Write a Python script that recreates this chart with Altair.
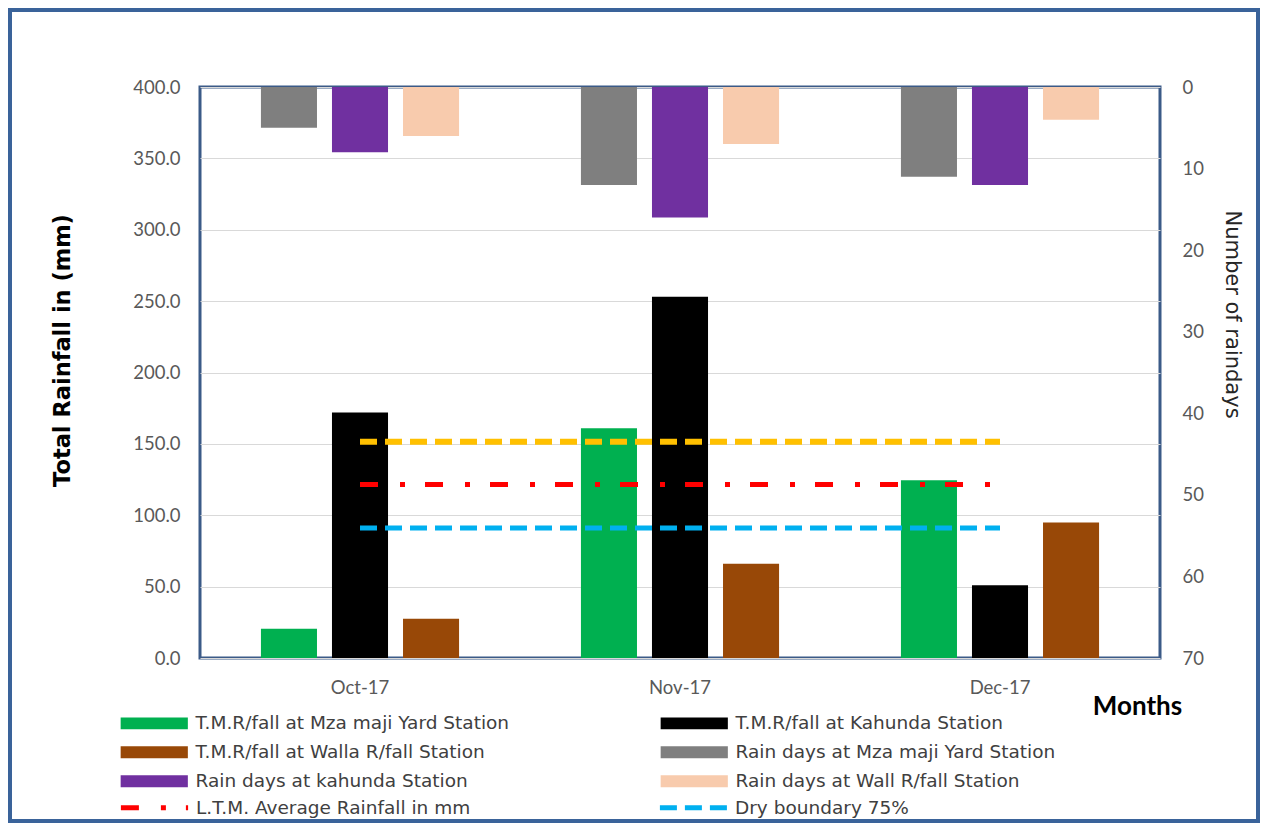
import altair as alt
import pandas as pd

months = ["Oct-17", "Nov-17", "Dec-17"]
stations = ["Mza maji Yard", "Kahunda", "Walla"]

# Total monthly rainfall (mm), left axis
rain_mza = [20.5, 161.0, 124.5]
rain_kahunda = [172.0, 253.0, 51.0]
rain_walla = [27.5, 66.0, 95.0]

# Number of rain days, right (reversed) axis
days_mza = [5, 12, 11]
days_kahunda = [8, 16, 12]
days_walla = [6, 7, 4]

# Reference lines (mm)
wet_line = [151.5, 151.5, 151.5]
ltm_avg = [121.5, 121.5, 121.5]
dry_boundary = [91.0, 91.0, 91.0]

rain_labels = ["T.M.R/fall at Mza maji Yard Station",
               "T.M.R/fall at Kahunda  Station",
               "T.M.R/fall at Walla R/fall Station"]
days_labels = ["Rain days at Mza maji Yard Station",
               "Rain days at kahunda Station",
               "Rain days at Wall R/fall Station"]
line_labels = ["L.T.M. Average Rainfall in mm", "Dry boundary 75%"]

# legend order (filled column by column, two columns)
legend_order = [rain_labels[0], rain_labels[2], days_labels[1],
                rain_labels[1], days_labels[0], days_labels[2]]
legend_colors = ["#00B050", "#984807", "#7030A0",
                 "#000000", "#7F7F7F", "#F8CBAD"]
line_colors = ["#FF0000", "#00B0F0"]
line_dashes = [[18, 22, 5, 20], [17, 8]]

rain_df = pd.DataFrame({
    "month": months * 3,
    "station": [s for s in stations for _ in months],
    "series": [l for l in rain_labels for _ in months],
    "value": rain_mza + rain_kahunda + rain_walla,
})
days_df = pd.DataFrame({
    "month": months * 3,
    "station": [s for s in stations for _ in months],
    "series": [l for l in days_labels for _ in months],
    "days": days_mza + days_kahunda + days_walla,
})
lines_df = pd.DataFrame({
    "month": months * 2,
    "line": [l for l in line_labels for _ in months],
    "value": ltm_avg + dry_boundary,
})
wet_df = pd.DataFrame({"month": months, "value": wet_line})
frame_df = pd.DataFrame({"k": [0]})

FONT = "Lato"
LEG_FONT = "DejaVu Sans"
GRAY = "#595959"

x_enc = alt.X(
    "month:N", sort=months, title="Months",
    scale=alt.Scale(paddingInner=0.334, paddingOuter=0.167),
    axis=alt.Axis(labelFont=FONT, labelFontSize=18.5, labelColor=GRAY,
                  labelPadding=20, domain=False, ticks=False, grid=False,
                  labelAngle=0,
                  titleFont=FONT, titleFontSize=26, titleFontWeight="bold",
                  titleColor="#000000", titleX=937, titleY=48,
                  titleAlign="center", titleBaseline="middle"),
)
xoff_enc = alt.XOffset("station:N", sort=stations,
                       scale=alt.Scale(paddingInner=0.211, paddingOuter=0.1055))

bar_symbol = "M-4.8,-0.85L4.8,-0.85L4.8,0.85L-4.8,0.85Z"
line_symbol = "M-4.8,0L4.8,0"

fill_enc = alt.Fill(
    "series:N",
    scale=alt.Scale(domain=legend_order, range=legend_colors),
    legend=alt.Legend(title=None, orient="none", legendX=-55, legendY=627,
                      columns=2, columnPadding=150, rowPadding=10,
                      symbolType=bar_symbol, symbolSize=196,
                      symbolStrokeWidth=0, labelOffset=32,
                      labelFont=LEG_FONT, labelFontSize=18.5, labelColor="#404040",
                      labelLimit=450),
)

line_legend = alt.Legend(title=None, orient="none", legendX=-55,
                         legendY=711, columns=2, columnPadding=178,
                         symbolType=line_symbol, symbolSize=196,
                         symbolStrokeWidth=5, labelOffset=32,
                         labelFont=LEG_FONT, labelFontSize=18.5,
                         labelColor="#404040", labelLimit=450)

y_left = alt.Y(
    "value:Q",
    scale=alt.Scale(domain=[0, 400], nice=False),
    axis=alt.Axis(values=list(range(0, 401, 50)), format=".1f",
                  labelFont=FONT, labelFontSize=18.5, labelColor=GRAY,
                  labelPadding=20, domain=False, ticks=False,
                  grid=True, gridColor="#D9D9D9", gridWidth=1,
                  title="Total Rainfall in (mm)", titleFont="DejaVu Sans",
                  titleFontSize=22.5, titleFontWeight="bold", titleColor="#000000",
                  titleX=-138, titleY=263, titleAngle=-90,
                  titleAlign="center", titleBaseline="middle"),
)

rain_bars = alt.Chart(rain_df).mark_bar().encode(
    x=x_enc, xOffset=xoff_enc, y=y_left, fill=fill_enc
)

wet = alt.Chart(wet_df).mark_line(
    color="#FFC000", strokeWidth=6, strokeDash=[17, 8], strokeCap="butt"
).encode(x=x_enc, y=alt.Y("value:Q"))

ref_lines = alt.Chart(lines_df).mark_line(strokeWidth=5, strokeCap="butt").encode(
    x=x_enc,
    y=alt.Y("value:Q"),
    stroke=alt.Stroke("line:N", scale=alt.Scale(domain=line_labels, range=line_colors),
                      legend=line_legend),
    strokeDash=alt.StrokeDash("line:N", scale=alt.Scale(domain=line_labels, range=line_dashes),
                              legend=line_legend),
)

days_bars = alt.Chart(days_df).mark_bar().encode(
    x=x_enc, xOffset=xoff_enc,
    y=alt.Y("days:Q",
            scale=alt.Scale(domain=[0, 70], reverse=True, nice=False),
            axis=alt.Axis(orient="right", values=list(range(0, 71, 10)),
                          labelFont=FONT, labelFontSize=18.5, labelColor=GRAY,
                          labelPadding=22, domain=False, ticks=False, grid=False,
                          title="Number of raindays", titleFont="DejaVu Sans",
                          titleFontSize=21, titleFontWeight="normal",
                          titleColor="#262626", titleX=71, titleY=227,
                          titleAngle=90, titleAlign="center",
                          titleBaseline="middle")),
    fill=fill_enc,
)

frame = alt.Chart(frame_df).mark_rect(
    filled=False, stroke="#3A639A", strokeWidth=4
).encode(x=alt.value(-190), x2=alt.value(1058), y=alt.value(-77), y2=alt.value(734))

left = alt.layer(rain_bars, wet, ref_lines)
chart = alt.layer(frame, left, days_bars).resolve_scale(
    y="independent"
).properties(
    width=960, height=571,
    autosize=alt.AutoSizeParams(type="none"),
    padding={"left": 192, "top": 79, "right": 103, "bottom": 168},
    background="#FFFFFF",
).configure_view(stroke="#3B5A87", strokeWidth=3)

chart.save("out.html", embed_options={"renderer": "svg", "actions": False})
